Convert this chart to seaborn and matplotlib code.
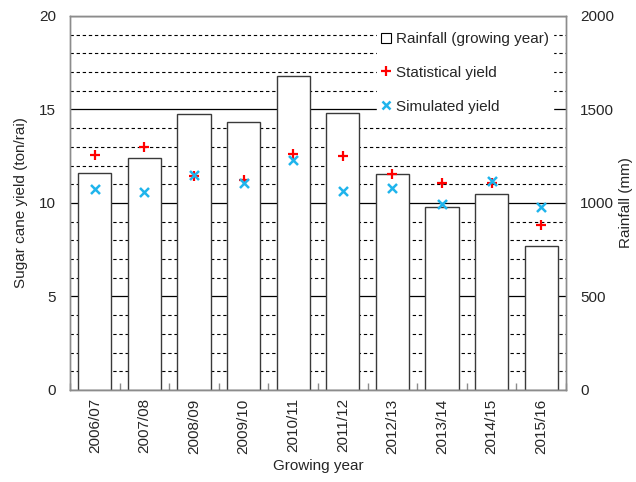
"""Sugar cane yield vs growing-year rainfall, 2006/07-2015/16."""

import numpy as np
import pandas as pd
import matplotlib
matplotlib.use("Agg")
import matplotlib.pyplot as plt
from matplotlib.lines import Line2D
import seaborn as sns

# ── Data ──────────────────────────────────────────────────────────────────────
years = ["2006/07", "2007/08", "2008/09", "2009/10", "2010/11",
         "2011/12", "2012/13", "2013/14", "2014/15", "2015/16"]
rainfall = [1160, 1240, 1475, 1432, 1678, 1480, 1153, 977, 1046, 770]
stat_yield = [12.57, 13.01, 11.44, 11.25, 12.62, 12.51, 11.55, 11.09, 11.05, 8.8]
sim_yield = [10.75, 10.57, 11.47, 11.05, 12.3, 10.64, 10.82, 9.93, 11.18, 9.8]

df = pd.DataFrame({"year": years, "rain": rainfall,
                   "stat": stat_yield, "sim": sim_yield})

# ── Style ─────────────────────────────────────────────────────────────────────
sns.set_theme(style="white")
plt.rcParams["font.family"] = ["Liberation Sans", "DejaVu Sans"]
FS = 11
SPINE = "#8c8c8c"
RED = "#ff0000"
CYAN = "#1fb4ec"

fig = plt.figure(figsize=(6.36, 4.82), dpi=100)
ax_rain = fig.add_axes([0.110, 0.191, 0.780, 0.776])
ax_yield = ax_rain.twinx()

# bars + grid on the rainfall axis (drawn underneath)
sns.barplot(data=df, x="year", y="rain", ax=ax_rain, color="white",
            edgecolor="#3a3a3a", linewidth=1.0, width=0.67, saturation=1)
ax_rain.set_ylim(0, 2000)
ax_rain.set_yticks(np.arange(0, 2001, 500))
ax_rain.set_yticks(np.arange(0, 2001, 100), minor=True)
ax_rain.set_axisbelow(True)
ax_rain.grid(which="major", axis="y", color="black", linewidth=0.9, linestyle="-")
ax_rain.grid(which="minor", axis="y", color="black", linewidth=0.8, linestyle=(0, (3, 2.5)))
ax_rain.yaxis.tick_right()
ax_rain.yaxis.set_label_position("right")
ax_rain.set_ylabel("Rainfall (mm)", fontsize=FS, labelpad=4)
ax_rain.set_xlabel("Growing year", fontsize=FS, labelpad=4)
ax_rain.set_xlim(-0.5, len(years) - 0.5)
ax_rain.set_xticks(range(len(years)))
ax_rain.set_xticklabels(years, rotation=90, fontsize=FS)
ax_rain.set_xticks(np.arange(-0.5, len(years), 1), minor=True)
ax_rain.tick_params(axis="x", which="major", length=0, pad=6)
ax_rain.tick_params(axis="x", which="minor", direction="in", length=5,
                    color=SPINE, bottom=True)
ax_rain.tick_params(axis="y", which="both", right=False, length=0,
                    labelsize=FS, pad=10)

# yield markers on top
sns.scatterplot(data=df, x="year", y="stat", ax=ax_yield, marker="+",
                color=RED, s=55, linewidth=1.6, zorder=5)
sns.scatterplot(data=df, x="year", y="sim", ax=ax_yield, marker="x",
                color=CYAN, s=42, linewidth=1.8, zorder=5)
ax_yield.set_ylim(0, 20)
ax_yield.set_yticks(np.arange(0, 21, 5))
ax_yield.yaxis.tick_left()
ax_yield.yaxis.set_label_position("left")
ax_yield.set_ylabel("Sugar cane yield (ton/rai)", fontsize=FS, labelpad=8)
ax_yield.tick_params(axis="y", left=False, length=0, labelsize=FS, pad=10)
ax_yield.set_xlim(-0.5, len(years) - 0.5)
ax_yield.set_xlabel("")

for a in (ax_rain, ax_yield):
    for sp in a.spines.values():
        sp.set_color(SPINE)
        sp.set_linewidth(1.0)

handles = [
    Line2D([], [], marker="s", markerfacecolor="white", markeredgecolor="black",
           markeredgewidth=0.8, markersize=6.5, linestyle="none",
           label="Rainfall (growing year)"),
    Line2D([], [], marker="+", color=RED, linestyle="none",
           markersize=7, markeredgewidth=1.6, label="Statistical yield"),
    Line2D([], [], marker="x", color=CYAN, linestyle="none",
           markersize=6, markeredgewidth=1.8, label="Simulated yield"),
]
leg = ax_yield.legend(handles=handles, loc="upper right", fontsize=FS,
                      bbox_to_anchor=(0.99, 0.99), frameon=True,
                      fancybox=False, edgecolor="white", facecolor="white",
                      framealpha=1, handlelength=0.6, handletextpad=0.35,
                      labelspacing=1.3, borderpad=0.3)

fig.savefig("out.png", dpi=100)
